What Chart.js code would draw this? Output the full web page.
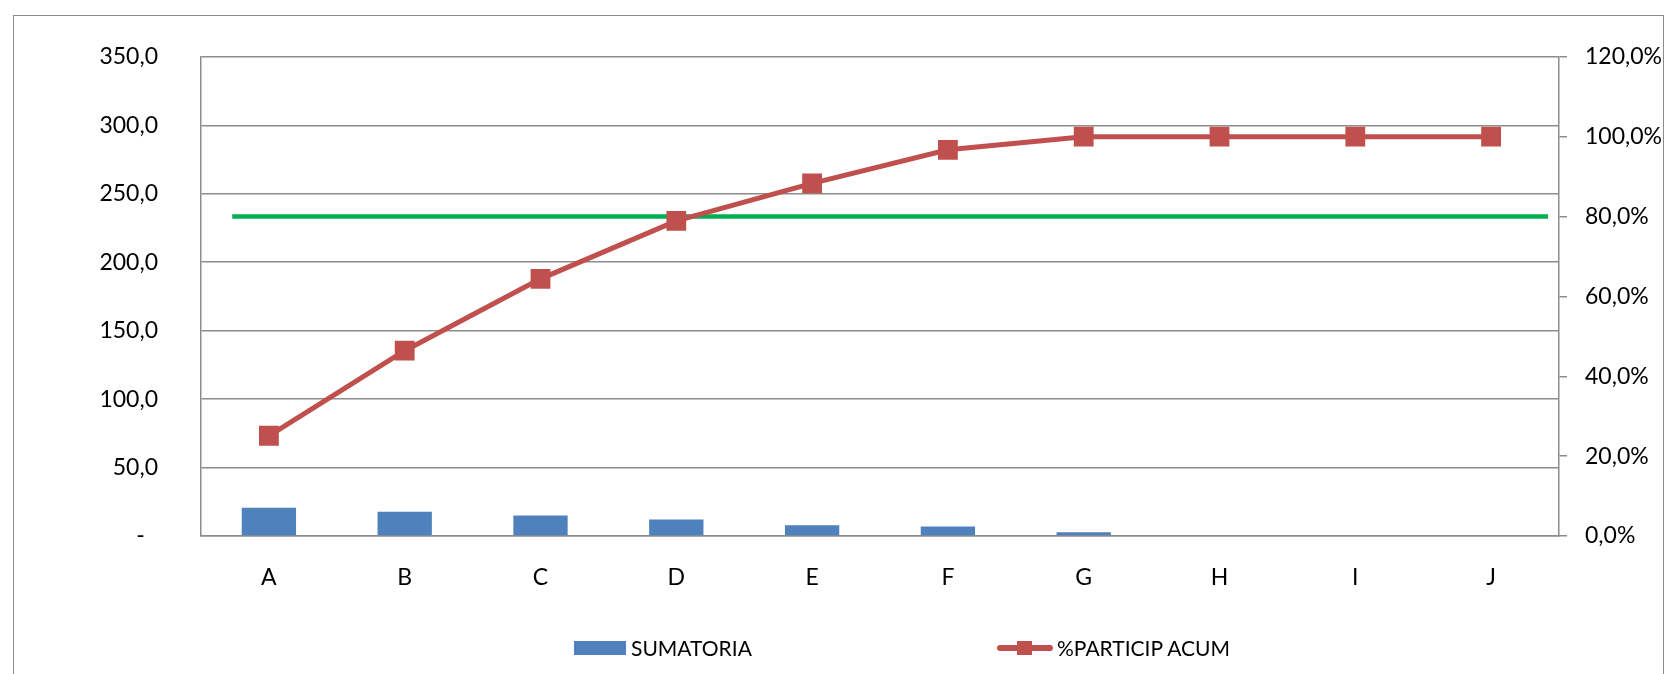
<!DOCTYPE html>
<html>
<head>
<meta charset="utf-8">
<script src="https://cdn.jsdelivr.net/npm/chart.js@4.4.1/dist/chart.umd.min.js"></script>
<style>
  html, body { margin: 0; padding: 0; background: #fff; }
  #wrap { position: relative; width: 1667px; height: 674px; overflow: hidden; }
  #frame { position: absolute; left: 13px; top: 15px; width: 1651px; height: 700px;
           border: 1.5px solid #8c8c8c; box-sizing: border-box; pointer-events: none; }
  .leg { position: absolute; top: 635px; height: 26px; font-family: Lato, sans-serif;
         font-size: 21px; line-height: 26px; color: #000; white-space: nowrap; }
  #sw1 { position: absolute; left: 574px; top: 641px; width: 52px; height: 14px; background: #4F81BD; }
  #sw2 { position: absolute; left: 997px; top: 645px; width: 56px; height: 6px; background: #C0504D; border-radius: 3px; }
  #sw2m { position: absolute; left: 1017px; top: 641px; width: 15px; height: 14px; background: #C0504D; }
</style>
</head>
<body>
<div id="wrap">
  <canvas id="paretoChart"></canvas>
  <div id="frame"></div>
  <div id="sw1"></div>
  <div class="leg" style="left:631px">SUMATORIA</div>
  <div id="sw2"></div><div id="sw2m"></div>
  <div class="leg" style="left:1057px">%PARTICIP ACUM</div>
</div>
<script>
// Pareto data
const categories = ['A', 'B', 'C', 'D', 'E', 'F', 'G', 'H', 'I', 'J'];
const sumatoria = [20.7, 17.8, 14.9, 12.0, 7.9, 7.0, 2.7, 0, 0, 0];
const participAcum = [25.1, 46.4, 64.4, 78.9, 88.3, 96.7, 100, 100, 100, 100];
// 80% reference line (spans a bit past the first and last category)
const limitX = [-0.27, 9.42];
const limitY = [80, 80];

const gridGray = '#8c8c8c';
Chart.defaults.font.family = "Lato, sans-serif";
Chart.defaults.font.size = 23;
Chart.defaults.color = '#000';

const canvas = document.getElementById('paretoChart');
canvas.style.width = '1667px';
canvas.style.height = '674px';
const ctx = canvas.getContext('2d');

new Chart(ctx, {
    type: 'bar',
    data: {
        labels: categories,
        datasets: [
            {
                type: 'line',
                label: '%PARTICIP ACUM',
                data: participAcum,
                yAxisID: 'y1',
                borderColor: '#C0504D',
                backgroundColor: '#C0504D',
                borderWidth: 5,
                pointStyle: 'rect',
                pointRadius: 14,
                pointBorderWidth: 0,
                pointBackgroundColor: '#C0504D',
                tension: 0,
                order: 0
            },
            {
                type: 'line',
                label: '80%',
                data: limitX.map((x, i) => ({ x: x, y: limitY[i] })),
                xAxisID: 'x2',
                yAxisID: 'y1',
                borderColor: '#00B050',
                borderWidth: 4.5,
                pointRadius: 0,
                order: 1
            },
            {
                label: 'SUMATORIA',
                data: sumatoria,
                yAxisID: 'y',
                backgroundColor: '#4F81BD',
                grouped: false,
                barPercentage: 0.4,
                categoryPercentage: 1.0,
                order: 2
            }
        ]
    },
    options: {
        responsive: false,
        animation: false,
        layout: { padding: { left: 0, right: 0, top: 51, bottom: 78 } },
        plugins: {
            legend: { display: false },
            tooltip: { enabled: false }
        },
        scales: {
            x: {
                grid: { display: false },
                border: { display: true, color: gridGray, width: 1.5 },
                ticks: { padding: 20 },
                afterFit: s => { s.height = 60; }
            },
            x2: {
                type: 'linear',
                display: false,
                offset: false,
                grid: { offset: false },
                min: -0.5,
                max: 9.5
            },
            y: {
                position: 'left',
                min: 0,
                max: 350,
                ticks: {
                    stepSize: 50,
                    padding: 43,
                    callback: v => v === 0 ? '-  \u200A' : v.toFixed(1).replace('.', ',')
                },
                grid: { color: gridGray, lineWidth: 1.5, drawTicks: false },
                border: { display: true, color: gridGray, width: 1.5 },
                afterFit: s => { s.width = 201; }
            },
            y1: {
                position: 'right',
                min: 0,
                max: 120,
                ticks: {
                    stepSize: 20,
                    padding: 18,
                    callback: v => v.toFixed(1).replace('.', ',') + '%'
                },
                grid: { drawOnChartArea: false, drawTicks: true, tickLength: 8, color: gridGray, lineWidth: 1.5 },
                border: { display: true, color: gridGray, width: 1.5 },
                afterFit: s => { s.width = 108; }
            }
        }
    }
});
</script>
</body>
</html>
